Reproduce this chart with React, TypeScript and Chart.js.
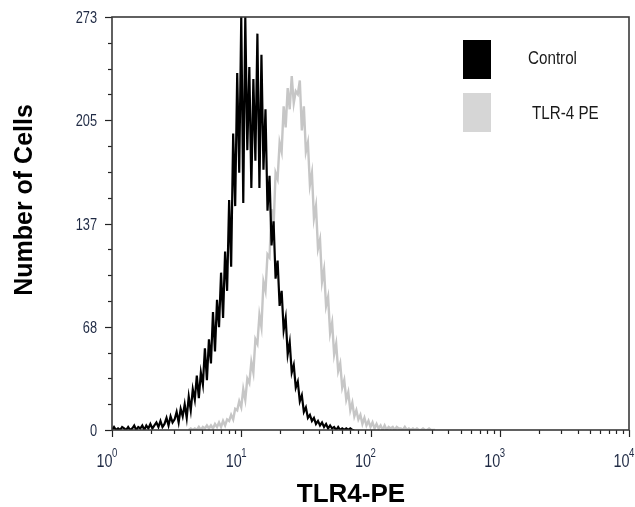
import React, { useEffect, useRef } from "react";
import { Chart, registerables } from "chart.js";

Chart.register(...registerables);

// ---- data ----
const CHANNELS_PER_DECADE = 64;
const seriesLabels = ["Control", "TLR-4 PE"];

const controlStart = 0;
const controlCounts = [
  0, 2, 0, 1, 0, 2, 1, 0, 2, 0, 1, 3, 0, 2, 1, 3, 0, 3, 1,
  4, 1, 3, 5, 2, 6, 2, 4, 8, 3, 9, 5, 7,
  12, 5, 14, 9, 17, 8, 22,
  13, 27, 20, 36, 21, 38,
  30, 54, 33, 60, 44, 78,
  52, 86, 68, 104, 74, 118,
  92, 152, 108, 196,
  148, 236, 170, 273, 150, 273, 185, 240, 160, 232, 178, 262, 160, 248, 172, 212,
  145, 168, 122, 138, 100, 112, 82, 92, 66, 74, 50, 58, 38, 43, 28, 32, 19, 23,
  12, 15, 8, 10, 6, 8, 4, 6, 3, 5, 2, 4, 1, 3, 1, 2, 0, 2, 0, 1, 0, 1, 0, 1, 0, 0,
];

const tlrStart = 38;
const tlrCounts = [
  0, 1, 0, 1, 0, 2, 0, 2, 1, 3, 1, 3, 1, 4, 2, 5, 2, 6, 3, 7,
  6, 10, 7, 14, 13, 19, 15, 27, 20, 34, 31, 45, 38, 60, 57, 76,
  68, 98, 92, 116, 114, 146, 134, 170, 166, 190, 184, 214, 200, 226,
  212, 234, 216, 224, 222, 231, 198, 214, 184, 190, 162, 170, 140, 148,
  120, 126, 98, 106, 82, 88, 64, 71, 50, 57, 39, 44, 28, 33, 20, 25,
  13, 18, 9, 13, 7, 10, 4, 8, 3, 6, 2, 5, 1, 4, 1, 3, 0, 3, 0, 2,
  1, 2, 0, 2, 1, 1, 0, 2, 0, 1, 0, 1, 0, 1, 0, 0, 1, 0, 0, 1, 0, 0, 0,
];

const yMax = 273;
const yTickLabels = ["0", "68", "137", "205", "273"];
const yMinorPerMajor = 4;
const xMin = 1;
const xMax = 10000;
const xTickBase = "10";
const xTickExponents = ["0", "1", "2", "3", "4"];
const xTitle = "TLR4-PE";
const yTitle = "Number of Cells";

const controlColor = "#000000";
const tlrLineColor = "#c6c6c6";
const tlrLegendColor = "#d6d6d6";

const SANS = "'Liberation Sans', Arial, Helvetica, sans-serif";
const TICK_COLOR = "#1f2a44";
const NARROW_X = 0.8;

function toPoints(start: number, counts: number[]) {
  return counts.map((c, j) => ({
    x: Math.pow(10, (start + j) / CHANNELS_PER_DECADE),
    y: c,
  }));
}

function narrowText(ctx: any, text: string, x: number, y: number, align: "left" | "right" | "center") {
  const w = ctx.measureText(text).width * NARROW_X;
  let left = x;
  if (align === "right") left = x - w;
  else if (align === "center") left = x - w / 2;
  ctx.save();
  ctx.translate(left, y);
  ctx.scale(NARROW_X, 1);
  ctx.textAlign = "left";
  ctx.fillText(text, 0, 0);
  ctx.restore();
  return w;
}

const decorPlugin = {
  id: "decor",
  afterDraw(chart: any) {
    const { ctx, chartArea: a, scales } = chart;
    ctx.save();
    // tick marks
    ctx.strokeStyle = "#222222";
    ctx.lineWidth = 1.2;
    scales.y.ticks.forEach((t: any, i: number) => {
      const y = Math.round(scales.y.getPixelForValue(t.value)) + 0.5;
      const len = i % yMinorPerMajor === 0 ? 7 : 4;
      ctx.beginPath();
      ctx.moveTo(a.left - len, y);
      ctx.lineTo(a.left, y);
      ctx.stroke();
    });
    scales.x.ticks.forEach((t: any) => {
      const lg = Math.log10(t.value);
      const isMajor = Math.abs(lg - Math.round(lg)) < 1e-9;
      const x = Math.round(scales.x.getPixelForValue(t.value)) + 0.5;
      const len = isMajor ? 7 : 4;
      ctx.beginPath();
      ctx.moveTo(x, a.bottom);
      ctx.lineTo(x, a.bottom + len);
      ctx.stroke();
    });
    // frame
    ctx.strokeStyle = "#3a3a3a";
    ctx.lineWidth = 1.6;
    ctx.strokeRect(a.left, a.top, a.right - a.left, a.bottom - a.top);

    // tick labels
    ctx.fillStyle = TICK_COLOR;
    ctx.textBaseline = "alphabetic";
    ctx.font = `16px ${SANS}`;
    scales.y.ticks.forEach((t: any, i: number) => {
      if (i % yMinorPerMajor !== 0) return;
      const y = scales.y.getPixelForValue(t.value);
      narrowText(ctx, yTickLabels[i / yMinorPerMajor], 97, y + 6, "right");
    });
    scales.x.ticks.forEach((t: any) => {
      const lg = Math.log10(t.value);
      if (Math.abs(lg - Math.round(lg)) > 1e-9) return;
      const x = scales.x.getPixelForValue(t.value);
      ctx.font = `18px ${SANS}`;
      narrowText(ctx, xTickBase, x + 0.5, 467, "right");
      ctx.font = `12px ${SANS}`;
      narrowText(ctx, xTickExponents[Math.round(lg)], x, 457, "left");
    });

    // axis titles
    ctx.fillStyle = "#000000";
    ctx.font = `bold 26px ${SANS}`;
    ctx.textAlign = "center";
    ctx.textBaseline = "alphabetic";
    ctx.fillText(xTitle, 351, 502);
    ctx.save();
    ctx.translate(32, 200);
    ctx.rotate(-Math.PI / 2);
    ctx.font = `bold 25px ${SANS}`;
    ctx.fillText(yTitle, 0, 0);
    ctx.restore();

    // legend
    const boxes = [
      { y: 40, tx: 528, ty: 64 },
      { y: 93, tx: 532, ty: 119 },
    ];
    ctx.font = `19px ${SANS}`;
    ctx.textBaseline = "alphabetic";
    boxes.forEach((b, i) => {
      const ds = chart.data.datasets[i];
      ctx.fillStyle = ds.backgroundColor;
      ctx.fillRect(463, b.y, 28, 39);
      ctx.fillStyle = "#1a1a1a";
      narrowText(ctx, ds.label, b.tx, b.ty, "left");
    });
    ctx.restore();
  },
};

export default function App() {
  const ref = useRef<HTMLCanvasElement | null>(null);
  useEffect(() => {
    if (!ref.current) return;
    const chart = new Chart(ref.current, {
      type: "line",
      data: {
        datasets: [
          {
            label: seriesLabels[0],
            data: toPoints(controlStart, controlCounts),
            borderColor: controlColor,
            backgroundColor: controlColor,
            borderWidth: 2.2,
            pointRadius: 0,
            tension: 0,
            fill: false,
          },
          {
            label: seriesLabels[1],
            data: toPoints(tlrStart, tlrCounts),
            borderColor: tlrLineColor,
            backgroundColor: tlrLegendColor,
            borderWidth: 2.4,
            pointRadius: 0,
            tension: 0,
            fill: false,
          },
        ],
      },
      options: {
        responsive: false,
        animation: false,
        events: [],
        layout: { padding: { top: 17, right: 6, left: 0, bottom: 0 } },
        plugins: { legend: { display: false }, tooltip: { enabled: false } },
        scales: {
          x: {
            type: "logarithmic",
            min: xMin,
            max: xMax,
            border: { display: false },
            grid: { display: false, drawTicks: false },
            afterBuildTicks: (scale: any) => {
              const ticks: any[] = [];
              for (let d = 0; d < 4; d++) {
                for (let m = 1; m < 10; m++) ticks.push({ value: m * Math.pow(10, d) });
              }
              ticks.push({ value: xMax });
              scale.ticks = ticks;
            },
            afterFit: (scale: any) => {
              scale.height = 77;
              scale.paddingLeft = 0;
              scale.paddingRight = 0;
            },
            ticks: { display: false, autoSkip: false },
          },
          y: {
            type: "linear",
            min: 0,
            max: yMax,
            border: { display: false },
            grid: { display: false, drawTicks: false },
            afterBuildTicks: (scale: any) => {
              const n = (yTickLabels.length - 1) * yMinorPerMajor;
              const ticks: any[] = [];
              for (let k = 0; k <= n; k++) ticks.push({ value: (k * yMax) / n });
              scale.ticks = ticks;
            },
            afterFit: (scale: any) => {
              scale.width = 112;
              scale.paddingTop = 0;
              scale.paddingBottom = 0;
            },
            ticks: { display: false, autoSkip: false },
          },
        },
      },
      plugins: [decorPlugin],
    });
    return () => chart.destroy();
  }, []);
  return (
    <div style={{ position: "absolute", left: 0, top: 0, width: 635, height: 507, background: "#fff" }}>
      <canvas ref={ref} width={635} height={507} style={{ display: "block" }} />
    </div>
  );
}
